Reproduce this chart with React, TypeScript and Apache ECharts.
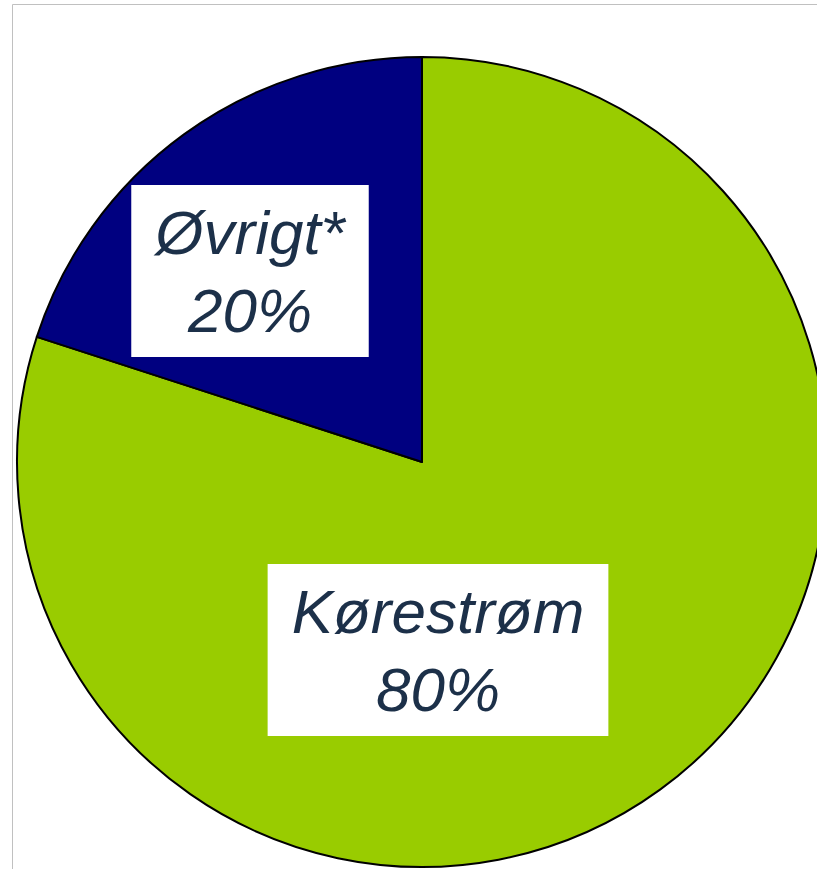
import React, { useEffect, useRef } from "react";
import * as echarts from "echarts";

const categories = ["Kørestrøm", "Øvrigt*"];
const values = [80, 20];

const sliceColors = ["#99CC00", "#000080"];
const labelCenters = [
  [438, 650],
  [250, 271],
];

export default function App() {
  const ref = useRef<HTMLDivElement>(null);
  useEffect(() => {
    if (!ref.current) return;
    const chart = echarts.init(ref.current, null, { renderer: "svg" });
    chart.setOption({
      animation: false,
      backgroundColor: "#ffffff",
      graphic: [
        {
          type: "rect",
          z: -10,
          silent: true,
          shape: { x: 12.5, y: 4.5, width: 900, height: 900 },
          style: { fill: "none", stroke: "#C0C0C0", lineWidth: 1 },
        },
      ],
      series: [
        {
          type: "pie",
          center: [422, 462],
          radius: [0, 405],
          startAngle: 90,
          clockwise: true,
          silent: true,
          emphasis: { disabled: true },
          itemStyle: { borderColor: "#000000", borderWidth: 2 },
          label: {
            show: true,
            position: "inside",
            formatter: "{b}\n{d}%",
            fontFamily: "Liberation Sans, Arial, sans-serif",
            fontStyle: "italic",
            fontSize: 62,
            lineHeight: 78,
            color: "#1C3049",
            backgroundColor: "#ffffff",
            padding: [8, 24, 8, 24],
            align: "center",
          },
          labelLine: { show: false },
          labelLayout: (p: any) => ({
            x: labelCenters[p.dataIndex][0],
            y: labelCenters[p.dataIndex][1],
            align: "center",
            verticalAlign: "middle",
          }),
          data: categories.map((name, i) => ({
            name,
            value: values[i],
            itemStyle: { color: sliceColors[i] },
          })),
        },
      ],
    });
    return () => chart.dispose();
  }, []);
  return (
    <div
      ref={ref}
      style={{ position: "fixed", left: 0, top: 0, width: 817, height: 869 }}
    />
  );
}
